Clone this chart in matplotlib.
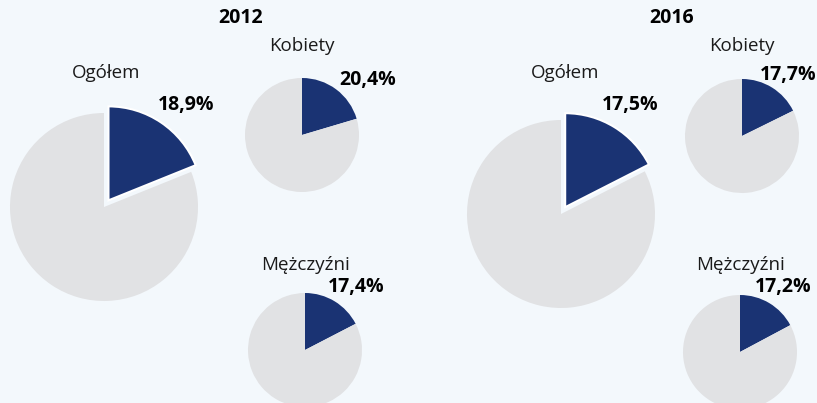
import matplotlib
matplotlib.use("Agg")
import matplotlib.pyplot as plt

plt.rcParams["font.family"] = ["Open Sans", "DejaVu Sans"]

years = ["2012", "2016"]
groups = ["Ogółem", "Kobiety", "Mężczyźni"]
shares_2012 = [18.9, 20.4, 17.4]
shares_2016 = [17.5, 17.7, 17.2]

NAVY = "#1a3373"
GREY = "#e1e2e4"
BG = "#f3f8fc"

W, H = 817, 403

# layout in pixels (x, y from top): pie center, radius, label pos, value pos
layout = {
    "2012": {
        "title": (241, 18),
        "Ogółem": dict(c=(104, 207), r=94, lab=(106, 73), val=(186, 105), explode=8),
        "Kobiety": dict(c=(302, 135), r=57, lab=(302, 46), val=(368, 80), explode=0),
        "Mężczyźni": dict(c=(305, 350), r=57, lab=(306, 265), val=(356, 287), explode=0),
    },
    "2016": {
        "title": (672, 18),
        "Ogółem": dict(c=(561, 214), r=94, lab=(565, 73), val=(630, 105), explode=8),
        "Kobiety": dict(c=(742, 136), r=57, lab=(742, 46), val=(788, 75), explode=0),
        "Mężczyźni": dict(c=(740, 352), r=57, lab=(741, 265), val=(783, 287), explode=0),
    },
}


def fmt(p):
    return f"{p:.1f}%".replace(".", ",")


fig = plt.figure(figsize=(W / 100, H / 100), dpi=100, facecolor=BG)
ax = fig.add_axes([0, 0, 1, 1])
ax.set_facecolor(BG)

for year, shares in zip(years, [shares_2012, shares_2016]):
    lay = layout[year]
    tx, ty = lay["title"]
    ax.text(tx, H - ty, year, ha="center", va="center", fontsize=14,
            fontweight="bold", color="black")
    for g, p in zip(groups, shares):
        d = lay[g]
        cx, cy = d["c"]
        wedges, _ = ax.pie([p, 100 - p], colors=[NAVY, GREY], startangle=90,
                           counterclock=False, center=(cx, H - cy),
                           radius=d["r"], explode=[d["explode"], 0],
                           wedgeprops=dict(edgecolor="none", linewidth=0))
        if d["explode"] > 0:
            # white gap around the pulled-out slice
            wedges[0].set_edgecolor("white")
            wedges[0].set_linewidth(1.5)
        lx, ly = d["lab"]
        ax.text(lx, H - ly, g, ha="center", va="center", fontsize=13.5,
                color="#1a1a1a")
        vx, vy = d["val"]
        ax.text(vx, H - vy, fmt(p), ha="center", va="center", fontsize=14,
                fontweight="bold", color="black")

ax.set_xlim(0, W)
ax.set_ylim(0, H)
ax.set_aspect("equal")
ax.axis("off")

fig.savefig("out.png", dpi=100, facecolor=BG)
